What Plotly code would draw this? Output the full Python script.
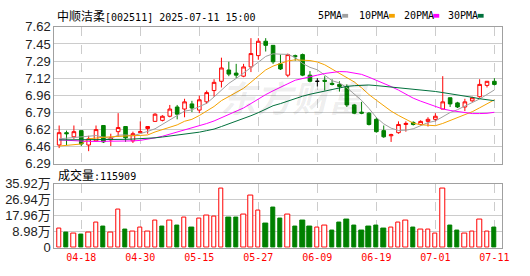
import plotly.graph_objects as go
import pandas as pd

# ---------------- data ----------------
dates = ["04-15", "04-16", "04-17", "04-18", "04-21", "04-22", "04-23", "04-24", "04-25", "04-28",
         "04-29", "04-30", "05-06", "05-07", "05-08", "05-09", "05-12", "05-13", "05-14", "05-15",
         "05-16", "05-19", "05-20", "05-21", "05-22", "05-23", "05-26", "05-27", "05-28", "05-29",
         "05-30", "06-03", "06-04", "06-05", "06-06", "06-09", "06-10", "06-11", "06-12", "06-13",
         "06-16", "06-17", "06-18", "06-19", "06-20", "06-23", "06-24", "06-25", "06-26", "06-27",
         "06-30", "07-01", "07-02", "07-03", "07-04", "07-07", "07-08", "07-09", "07-10", "07-11"]

opens = [6.47, 6.59, 6.55, 6.61, 6.47, 6.51, 6.66, 6.52, 6.60, 6.65,
         6.51, 6.59, 6.63, 6.70, 6.71, 6.75, 6.84, 6.82, 6.87, 6.81,
         6.89, 7.00, 7.09, 7.20, 7.17, 7.14, 7.23, 7.34, 7.48, 7.44,
         7.26, 7.15, 7.34, 7.35, 7.15, 7.09, 7.10, 7.07, 7.06, 7.04,
         6.86, 6.79, 6.78, 6.72, 6.61, 6.56, 6.59, 6.67, 6.69, 6.67,
         6.70, 6.72, 6.82, 6.93, 6.88, 6.84, 6.90, 6.94, 7.05, 7.09]
highs = [6.66, 6.61, 6.66, 6.61, 6.56, 6.66, 6.66, 6.58, 6.78, 6.65,
         6.60, 6.70, 6.65, 6.78, 6.76, 6.86, 6.86, 6.92, 6.90, 6.95,
         7.00, 7.11, 7.32, 7.28, 7.26, 7.26, 7.51, 7.51, 7.51, 7.44,
         7.35, 7.36, 7.35, 7.36, 7.19, 7.12, 7.14, 7.11, 7.09, 7.06,
         6.87, 6.89, 6.79, 6.74, 6.66, 6.58, 6.70, 6.70, 6.70, 6.71,
         6.74, 6.78, 7.14, 6.93, 6.89, 6.92, 6.94, 7.11, 7.09, 7.12]
lows = [6.44, 6.47, 6.53, 6.46, 6.41, 6.50, 6.49, 6.46, 6.55, 6.50,
        6.49, 6.59, 6.58, 6.70, 6.70, 6.74, 6.72, 6.74, 6.79, 6.78,
        6.87, 6.94, 7.03, 7.14, 7.12, 7.13, 7.18, 7.30, 7.38, 7.26,
        7.20, 7.13, 7.29, 7.14, 7.08, 7.04, 7.00, 7.05, 6.99, 6.84,
        6.77, 6.77, 6.66, 6.59, 6.54, 6.50, 6.58, 6.60, 6.66, 6.66,
        6.65, 6.70, 6.82, 6.84, 6.83, 6.80, 6.89, 6.93, 7.03, 7.05]
closes = [6.59, 6.58, 6.60, 6.48, 6.53, 6.62, 6.50, 6.54, 6.64, 6.54,
          6.58, 6.60, 6.65, 6.77, 6.75, 6.82, 6.77, 6.89, 6.83, 6.91,
          6.98, 7.08, 7.22, 7.16, 7.15, 7.23, 7.36, 7.48, 7.44, 7.28,
          7.21, 7.35, 7.33, 7.15, 7.09, 7.09, 7.09, 7.06, 7.04, 6.86,
          6.78, 6.78, 6.67, 6.60, 6.55, 6.57, 6.67, 6.68, 6.67, 6.70,
          6.72, 6.75, 6.89, 6.87, 6.84, 6.89, 6.93, 7.06, 7.09, 7.06]

# volume in 万 (10k shares)
volumes = [10.7, 8.8, 8.1, 7.7, 8.6, 13.9, 12.0, 8.6, 21.5, 10.4,
           9.2, 11.3, 9.2, 15.5, 12.0, 15.0, 12.5, 17.1, 11.4, 16.5,
           18.1, 17.6, 33.4, 16.7, 16.7, 18.7, 29.2, 20.9, 13.6, 22.5,
           16.4, 18.7, 12.0, 15.1, 12.0, 11.3, 12.3, 9.9, 14.1, 15.7,
           12.5, 9.9, 12.0, 12.5, 10.9, 11.3, 14.4, 15.0, 11.4, 10.2,
           10.2, 8.1, 33.4, 12.5, 9.9, 8.1, 9.2, 16.0, 9.2, 11.5909]
# 1 = red (up) volume bar, 0 = green (down)
volume_up = [1, 0, 1, 0, 1, 1, 0, 1, 1, 0,
             1, 1, 1, 1, 0, 1, 0, 1, 0, 1,
             1, 1, 1, 0, 0, 1, 1, 1, 0, 0,
             0, 1, 0, 0, 0, 1, 1, 0, 0, 0,
             0, 0, 0, 0, 0, 1, 1, 1, 0, 1,
             1, 1, 1, 0, 0, 1, 1, 1, 1, 0]

# moving-average values before a full window exists
ma5_lead = [6.53, 6.535, 6.54, 6.545]
ma10_lead = [6.46, 6.465, 6.47, 6.48, 6.53, 6.54, 6.545, 6.55, 6.555]
ma20_lead = [6.52, 6.515, 6.51, 6.51, 6.505, 6.505, 6.505, 6.505, 6.505, 6.507,
             6.51, 6.515, 6.525, 6.54, 6.555, 6.575, 6.595, 6.62, 6.64]
ma30_lead = [6.52, 6.52, 6.52, 6.52, 6.52, 6.52, 6.52, 6.52, 6.523, 6.525,
             6.528, 6.53, 6.535, 6.54, 6.548, 6.556, 6.565, 6.576, 6.585, 6.595,
             6.61, 6.625, 6.65, 6.675, 6.70, 6.725, 6.755, 6.785, 6.82]

price_tick_labels = ["6.29", "6.46", "6.62", "6.79", "6.96", "7.12", "7.29", "7.45", "7.62"]
price_min, price_max = 6.29, 7.62
vol_tick_values = [0, 8.98, 17.96, 26.94, 35.92]
vol_tick_labels = ["0", "8.98万", "17.96万", "26.94万", "35.92万"]
date_tick_labels = ["04-18", "04-30", "05-15", "05-27", "06-09", "06-19", "07-01", "07-11"]

title_name = "中顺洁柔"
title_rest = "[002511] 2025-07-11 15:00"
vol_label = "成交量"
vol_current = "115909"

ma_names = ["5PMA", "10PMA", "20PMA", "30PMA"]
ma_colors = ["#a0a0a0", "#f5a300", "#ff00ff", "#00703c"]

# ---------------- figure ----------------
W, H = 530, 276
RED, GREEN = "#ff0000", "#008000"
n = len(dates)
xs = list(range(n))

def px_x(p):
    return p / W

def px_y(p):
    return 1 - p / H

flat = [o == c for o, c in zip(opens, closes)]

def pick(arr, keep):
    return [v if k else None for v, k in zip(arr, keep)]

normal = [not f for f in flat]

fig = go.Figure()

fig.add_trace(go.Candlestick(
    x=xs, open=pick(opens, normal), high=pick(highs, normal),
    low=pick(lows, normal), close=pick(closes, normal),
    increasing=dict(line=dict(color=RED, width=1), fillcolor="#ffffff"),
    decreasing=dict(line=dict(color=GREEN, width=1), fillcolor=GREEN),
    whiskerwidth=0, xaxis="x2", yaxis="y2", hoverinfo="skip", showlegend=False))

if any(flat):
    fig.add_trace(go.Candlestick(
        x=xs, open=pick(opens, flat), high=pick(highs, flat),
        low=pick(lows, flat), close=pick(closes, flat),
        increasing=dict(line=dict(color="#000000", width=1), fillcolor="#000000"),
        decreasing=dict(line=dict(color="#000000", width=1), fillcolor="#000000"),
        whiskerwidth=0, xaxis="x2", yaxis="y2", hoverinfo="skip", showlegend=False))

close_s = pd.Series(closes)
leads = [ma5_lead, ma10_lead, ma20_lead, ma30_lead]
for win, lead, col in zip([5, 10, 20, 30], leads, ma_colors):
    ma = close_s.rolling(win).mean().tolist()
    ma[:len(lead)] = lead
    fig.add_trace(go.Scatter(x=xs, y=ma, mode="lines", line=dict(color=col, width=1),
                             xaxis="x2", yaxis="y2", hoverinfo="skip", showlegend=False))

fig.add_trace(go.Bar(
    x=xs, y=volumes, width=0.6,
    marker=dict(color=["#ffffff" if u else GREEN for u in volume_up],
                line=dict(color=[RED if u else GREEN for u in volume_up], width=1)),
    xaxis="x", yaxis="y", hoverinfo="skip", showlegend=False))

x_dom = [px_x(55), px_x(509)]
x_range = [-0.66, n + 0.07]
tick_idx = [dates.index(d) for d in date_tick_labels]
axis_common = dict(showline=True, mirror=True, linecolor="#a0a0a0", linewidth=1,
                   zeroline=False, ticks="", fixedrange=True)
price_ticks = [price_min + k * (price_max - price_min) / (len(price_tick_labels) - 1)
               for k in range(len(price_tick_labels))]

tick_font = dict(family="Liberation Sans, Arial, sans-serif", size=13, color="#222222")
mono = "DejaVu Sans Mono, monospace"

fig.update_layout(
    width=W, height=H, margin=dict(l=0, r=0, t=0, b=0),
    paper_bgcolor="#ffffff", plot_bgcolor="#ffffff", hovermode=False,
    bargap=0, barmode="overlay",
    xaxis=dict(domain=x_dom, anchor="y", range=x_range, tickmode="array",
               tickvals=tick_idx, ticktext=date_tick_labels,
               tickfont=dict(family=mono, size=10, color=RED),
               showgrid=True, gridcolor="#cccccc", griddash="dash", gridwidth=1,
               rangeslider=dict(visible=False), **axis_common),
    xaxis2=dict(domain=x_dom, anchor="y2", matches="x", range=x_range, tickmode="array",
                tickvals=tick_idx, showticklabels=False,
                showgrid=True, gridcolor="#cccccc", griddash="dash", gridwidth=1,
                rangeslider=dict(visible=False), **axis_common),
    yaxis=dict(domain=[px_y(254.7), px_y(186.7)], anchor="x", range=[0, vol_tick_values[-1]],
               tickmode="array", tickvals=vol_tick_values, ticktext=vol_tick_labels,
               tickfont=dict(family="Liberation Sans, Noto Sans CJK SC, sans-serif", size=13, color="#222222"),
               showgrid=True, gridcolor="#cccccc", gridwidth=1, **axis_common),
    yaxis2=dict(domain=[px_y(165.5), px_y(21)], anchor="x2", range=[price_min, price_max],
                tickmode="array", tickvals=price_ticks, ticktext=price_tick_labels,
                tickfont=tick_font, showgrid=True, gridcolor="#cccccc", gridwidth=1,
                **axis_common),
)

annotations = []
# watermark
annotations.append(dict(x=px_x(298), y=px_y(94), xref="paper", yref="paper",
                        text="东方财富", showarrow=False,
                        font=dict(family="Noto Sans CJK SC", size=36, color="rgba(0,0,0,0.07)",
                                  weight="bold", style="italic")))
# title
annotations.append(dict(x=px_x(56), y=px_y(8.5), xref="paper", yref="paper",
                        xanchor="left", yanchor="middle", showarrow=False,
                        text="<span style='font-family:Noto Sans CJK SC;font-size:12px'>%s</span>%s"
                             % (title_name, title_rest),
                        font=dict(family=mono, size=10, color="#000000")))
# volume caption
annotations.append(dict(x=px_x(57), y=px_y(177), xref="paper", yref="paper",
                        xanchor="left", yanchor="middle", showarrow=False,
                        text="<span style='font-family:Noto Sans CJK SC;font-size:12px'>%s</span>:%s"
                             % (vol_label, vol_current),
                        font=dict(family=mono, size=10, color="#000000")))
# MA legend
legend_x = [320.7, 362, 407, 452]
shapes = []
for name, col, lx in zip(ma_names, ma_colors, legend_x):
    annotations.append(dict(x=px_x(lx), y=px_y(8.5), xref="paper", yref="paper",
                            xanchor="left", yanchor="middle", showarrow=False, text=name,
                            font=dict(family=mono, size=10, color="#000000")))
    sx = lx + len(name) * 6.02 + 2
    shapes.append(dict(type="rect", xref="paper", yref="paper",
                       x0=px_x(sx), x1=px_x(sx + 6), y0=px_y(11.3), y1=px_y(7.3),
                       fillcolor=col, line=dict(width=0)))

fig.update_layout(annotations=annotations, shapes=shapes)
fig.write_html("out.html")
